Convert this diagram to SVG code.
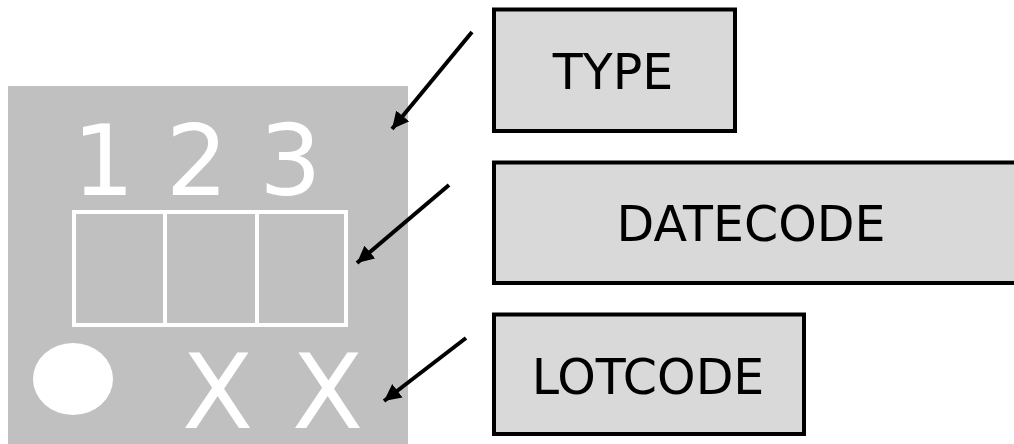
<svg xmlns="http://www.w3.org/2000/svg" width="1014" height="444" viewBox="0 0 1014 444">
<style>
.lbl{fill:#d9d9d9;stroke:#000;stroke-width:4}
.lt{font-family:"DejaVu Sans",Verdana,sans-serif;font-size:49px;fill:#000;text-anchor:middle}
.wt{font-family:"DejaVu Sans",Verdana,sans-serif;fill:#fff;text-anchor:middle}
.conn{stroke:#000;stroke-width:4;fill:none;marker-end:url(#ah)}
</style>
<defs>
<marker id="ah" markerUnits="userSpaceOnUse" markerWidth="18" markerHeight="18" refX="15" refY="7.5" orient="auto" viewBox="0 0 16 15">
<path d="M0,0 L15,7.5 L0,15 z" fill="#000"/>
</marker>
</defs>
<rect width="1014" height="444" fill="#fff"/>
<g id="chip">
<rect x="8" y="86" width="400" height="358" fill="#c0c0c0"/>
<text class="wt" x="197" y="195" font-size="98">1 2 3</text>
<rect x="74" y="212" width="272" height="113" fill="none" stroke="#fff" stroke-width="4"/>
<line x1="165" y1="212" x2="165" y2="325" stroke="#fff" stroke-width="4"/>
<line x1="257" y1="212" x2="257" y2="325" stroke="#fff" stroke-width="4"/>
<ellipse cx="73" cy="379" rx="40" ry="36" fill="#fff"/>
<text class="wt" x="217.5" y="428" font-size="104">X</text>
<text class="wt" x="327.5" y="428" font-size="104">X</text>
</g>
<g id="type">
<rect class="lbl" x="494" y="9.5" width="241" height="121.5"/>
<text class="lt" x="613" y="89">TYPE</text>
</g>
<g id="datecode">
<rect class="lbl" x="494" y="162.5" width="540" height="120.5"/>
<text class="lt" x="751" y="241">DATECODE</text>
</g>
<g id="lotcode">
<rect class="lbl" x="494" y="314.5" width="310" height="119.5"/>
<text class="lt" x="648" y="394">LOTCODE</text>
</g>
<g id="connectors">
<line class="conn" x1="472" y1="32" x2="392" y2="129"/>
<line class="conn" x1="449" y1="185" x2="357" y2="263"/>
<line class="conn" x1="466" y1="338" x2="384" y2="401"/>
</g>
</svg>
